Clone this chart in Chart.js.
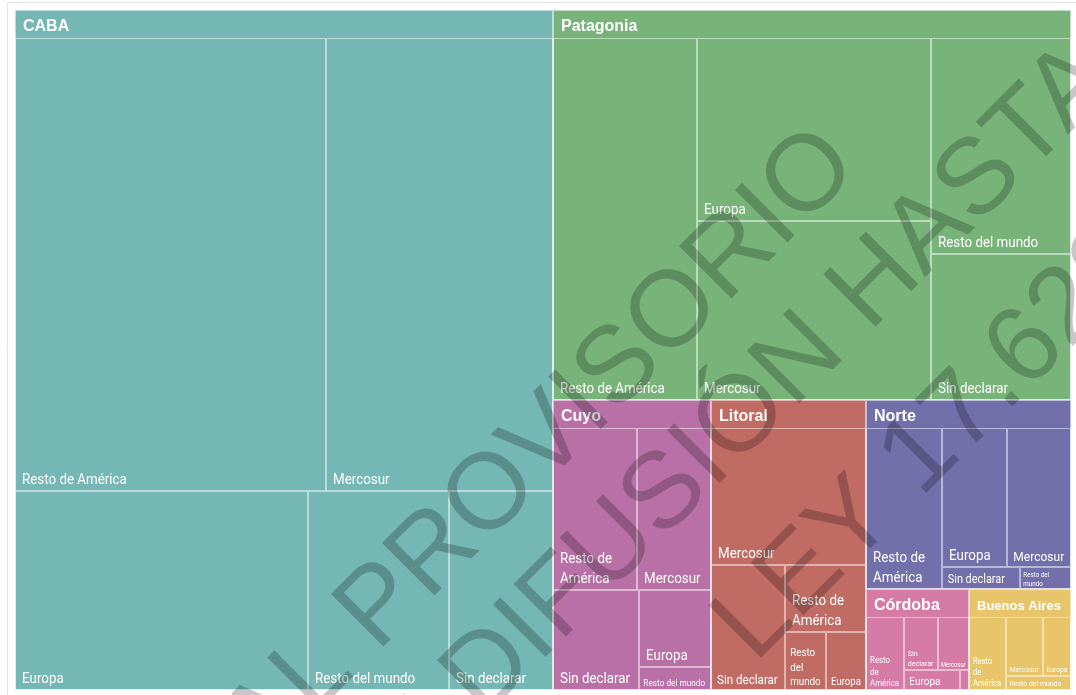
<!DOCTYPE html>
<html>
<head>
<meta charset="utf-8">
<script src="https://cdn.jsdelivr.net/npm/chart.js@4.4.1/dist/chart.umd.min.js"></script>
<style>
html,body{margin:0;padding:0;background:#fff;}
#wrap{width:1076px;height:695px;position:relative;}
</style>
</head>
<body>
<div id="wrap"><canvas id="c"></canvas></div>
<script>
// ---- DATA ----
const regions = ['CABA', 'Patagonia', 'Cuyo', 'Litoral', 'Norte', 'Córdoba', 'Buenos Aires'];
const origins = ['Resto de América', 'Mercosur', 'Europa', 'Resto del mundo', 'Sin declarar'];
const caba        = [1469.3, 1072.5, 608.1, 292.6, 215.8];
const patagonia   = [561.6, 451.3, 461.3, 325.8, 220.2];
const cuyo        = [150.6, 132.7, 61.4, 18.3, 95.2];
const litoral     = [60.1, 235.0, 25.7, 26.3, 102.4];
const norte       = [143.6, 104.4, 106.1, 13.2, 20.1];
const cordoba     = [38.4, 22.7, 15.5, 2.5, 24.9];
const buenosAires = [37.4, 30.2, 22.9, 12.6, 0];
const regionValues = [caba, patagonia, cuyo, litoral, norte, cordoba, buenosAires];

// ---- STYLE / LAYOUT OPTIONS ----
const regionColors = ['#74B7B4', '#78B47A', '#B970A7', '#C06B63', '#736FAB', '#D57BA6', '#E8C56A'];
// number of cells per strip at each step of the strip layout
const rowPlan = {
  _root: [1, 1, 1, 1, 1, 1, 1],
  'CABA': [2, 1, 1, 1],
  'Patagonia': [1, 2, 1, 1],
  'Cuyo': [2, 1, 1, 1],
  'Litoral': [1, 1, 1, 1, 1],
  'Norte': [1, 2, 1, 1],
  'Córdoba': [1, 2, 1, 1],
  'Buenos Aires': [1, 2, 1]
};
const HEADER = 28;
const XS = 0.89; // horizontal condensing of cell labels

function stripLayout(nodes, x0, y0, x1, y1, plan) {
  let total = nodes.reduce((s, n) => s + n.value, 0);
  let i = 0, r = 0;
  while (i < nodes.length) {
    const k = (plan && plan[r]) ? plan[r] : nodes.length - i;
    const row = nodes.slice(i, i + k);
    const s = row.reduce((a, n) => a + n.value, 0);
    const dx = x1 - x0, dy = y1 - y0;
    if (dx < dy) {
      const h = dy * s / total;
      let x = x0;
      row.forEach(n => { const w = dx * n.value / s; n.x0 = x; n.y0 = y0; n.x1 = x + w; n.y1 = y0 + h; x += w; });
      y0 += h;
    } else {
      const w = dx * s / total;
      let y = y0;
      row.forEach(n => { const h = dy * n.value / s; n.x0 = x0; n.y0 = y; n.x1 = x0 + w; n.y1 = y + h; y += h; });
      x0 += w;
    }
    total -= s; i += k; r++;
  }
}

function tw(ctx, t, s) { ctx.font = s + 'px Roboto'; return ctx.measureText(t).width * XS; }
function wrapWords(ctx, words, s, aw) {
  const lines = []; let cur = '';
  for (const w of words) {
    const t = cur ? cur + ' ' + w : w;
    if (!cur || tw(ctx, t, s) <= aw) cur = t; else { lines.push(cur); cur = w; }
  }
  if (cur) lines.push(cur);
  return lines;
}
const padOf = s => Math.max(2.5, 0.47 * s);
function fitLabel(ctx, text, w, h) {
  let s1 = 0;
  for (let s = 15; s >= 5; s -= 0.25) {
    if (tw(ctx, text, s) <= w - 2 * padOf(s) && s * 1.77 <= h) { s1 = s; break; }
  }
  let s2 = 0, L2 = null;
  const words = text.split(' ');
  for (let s = 15; s >= 5; s -= 0.25) {
    const aw = w - 2 * padOf(s);
    const lines = wrapWords(ctx, words, s, aw);
    if (lines.every(l => tw(ctx, l, s) <= aw) && s * (1.3 * lines.length + 0.47) <= h) { s2 = s; L2 = lines; break; }
  }
  if (!s1 && !s2) return null;
  if (s1 && (!s2 || (s1 >= 0.8 * s2 && s1 >= 8))) return { s: s1, lines: [text] };
  return { s: s2, lines: L2 };
}

const framePlugin = {
  id: 'frame',
  beforeDraw(chart) {
    const ctx = chart.ctx;
    ctx.save();
    ctx.strokeStyle = '#e4e4e4';
    ctx.lineWidth = 1;
    ctx.beginPath();
    ctx.moveTo(7.5, chart.height);
    ctx.lineTo(7.5, 2.5);
    ctx.lineTo(chart.width, 2.5);
    ctx.stroke();
    ctx.restore();
  }
};

const treemapPlugin = {
  id: 'treemapCells',
  afterDatasetsDraw(chart) {
    const { ctx, chartArea: ca, scales } = chart;
    const W = ca.right - ca.left, H = ca.bottom - ca.top;
    const groups = regions.map((name, gi) => {
      const kids = origins.map((o, oi) => ({ name: o, value: regionValues[gi][oi] }))
        .filter(k => k.value > 0).sort((a, b) => b.value - a.value);
      return { name, color: regionColors[gi], value: kids.reduce((s, k) => s + k.value, 0), children: kids };
    }).sort((a, b) => b.value - a.value);
    stripLayout(groups, 0, 0, W, H, rowPlan._root);
    groups.forEach(g => stripLayout(g.children, g.x0, g.y0 + HEADER, g.x1, g.y1, rowPlan[g.name]));

    const px = v => Math.round(scales.x.getPixelForValue(v / W));
    const py = v => Math.round(scales.y.getPixelForValue(v / H));
    const rect = n => ({ x0: px(n.x0), y0: py(n.y0), x1: px(n.x1), y1: py(n.y1) });

    ctx.save();
    groups.forEach(g => {
      const r = rect(g);
      ctx.fillStyle = g.color;
      ctx.fillRect(r.x0, r.y0, r.x1 - r.x0, r.y1 - r.y0);
    });
    ctx.lineWidth = 1;
    ctx.strokeStyle = 'rgba(255,255,255,0.5)';
    groups.forEach(g => {
      g.children.forEach(c => {
        const r = rect(c);
        ctx.strokeRect(r.x0 + 0.5, r.y0 + 0.5, r.x1 - r.x0 - 1, r.y1 - r.y0 - 1);
      });
    });
    ctx.strokeStyle = 'rgba(255,255,255,0.55)';
    groups.forEach(g => {
      const r = rect(g);
      ctx.strokeRect(r.x0 + 0.5, r.y0 + 0.5, r.x1 - r.x0 - 1, r.y1 - r.y0 - 1);
    });
    // group headers
    ctx.fillStyle = '#ffffff';
    ctx.textBaseline = 'alphabetic';
    groups.forEach(g => {
      const r = rect(g);
      let s = 16;
      ctx.font = 'bold ' + s + 'px "Liberation Sans", Arial, sans-serif';
      const maxW = (r.x1 - r.x0) - 18;
      const w0 = ctx.measureText(g.name).width;
      if (w0 > maxW) { s = Math.max(8, s * maxW / w0); ctx.font = 'bold ' + s + 'px "Liberation Sans", Arial, sans-serif'; }
      ctx.fillText(g.name, r.x0 + 8, r.y0 + 20.5);
    });
    // cell labels (bottom-left)
    groups.forEach(g => {
      g.children.forEach(c => {
        const r = rect(c);
        const w = r.x1 - r.x0, h = r.y1 - r.y0;
        const fit = fitLabel(ctx, c.name, w, h);
        if (!fit) return;
        const s = fit.s, pad = padOf(s), lh = 1.3 * s;
        ctx.save();
        ctx.beginPath(); ctx.rect(r.x0, r.y0, w, h); ctx.clip();
        ctx.font = s + 'px Roboto';
        ctx.fillStyle = '#ffffff';
        const n = fit.lines.length;
        fit.lines.forEach((line, i) => {
          const by = r.y1 - pad - (n - 1 - i) * lh;
          ctx.save();
          ctx.translate(r.x0 + pad, by);
          ctx.scale(XS, 1);
          ctx.fillText(line, 0, 0);
          ctx.restore();
        });
        ctx.restore();
      });
    });
    ctx.restore();
  }
};

// watermark overlay of the source document
const watermark = {
  size: 108, angle: -45, origin: [880, 280], color: 'rgba(0,0,0,0.22)',
  lines: [
    { text: 'MATERIAL PROVISORIO', anchor: 'PROVISORIO', u: -619, v: -92 },
    { text: 'PROHIBIDA SU DIFUSIÓN HASTA EL', anchor: 'HASTA', u: -45, v: 30 },
    { text: 'LEY 17.622', anchor: 'LEY', u: -360, v: 183 }
  ]
};
const watermarkPlugin = {
  id: 'watermark',
  afterDraw(chart) {
    const ctx = chart.ctx;
    ctx.save();
    ctx.translate(watermark.origin[0], watermark.origin[1]);
    ctx.rotate(watermark.angle * Math.PI / 180);
    ctx.font = watermark.size + 'px "Liberation Sans", Arial, sans-serif';
    ctx.fillStyle = watermark.color;
    ctx.textBaseline = 'alphabetic';
    watermark.lines.forEach(l => {
      const idx = l.text.indexOf(l.anchor);
      const off = ctx.measureText(l.text.slice(0, idx)).width;
      ctx.fillText(l.text, l.u - off, l.v);
    });
    ctx.restore();
  }
};

new Chart(document.getElementById('c'), {
  type: 'scatter',
  data: { datasets: [{ data: [], pointRadius: 0 }] },
  options: {
    responsive: true,
    maintainAspectRatio: false,
    animation: false,
    layout: { padding: { left: 15, top: 10, right: 5, bottom: 5 } },
    scales: {
      x: { type: 'linear', min: 0, max: 1, display: false },
      y: { type: 'linear', min: 0, max: 1, reverse: true, display: false }
    },
    plugins: { legend: { display: false }, tooltip: { enabled: false } }
  },
  plugins: [framePlugin, treemapPlugin, watermarkPlugin]
});
</script>
</body>
</html>
